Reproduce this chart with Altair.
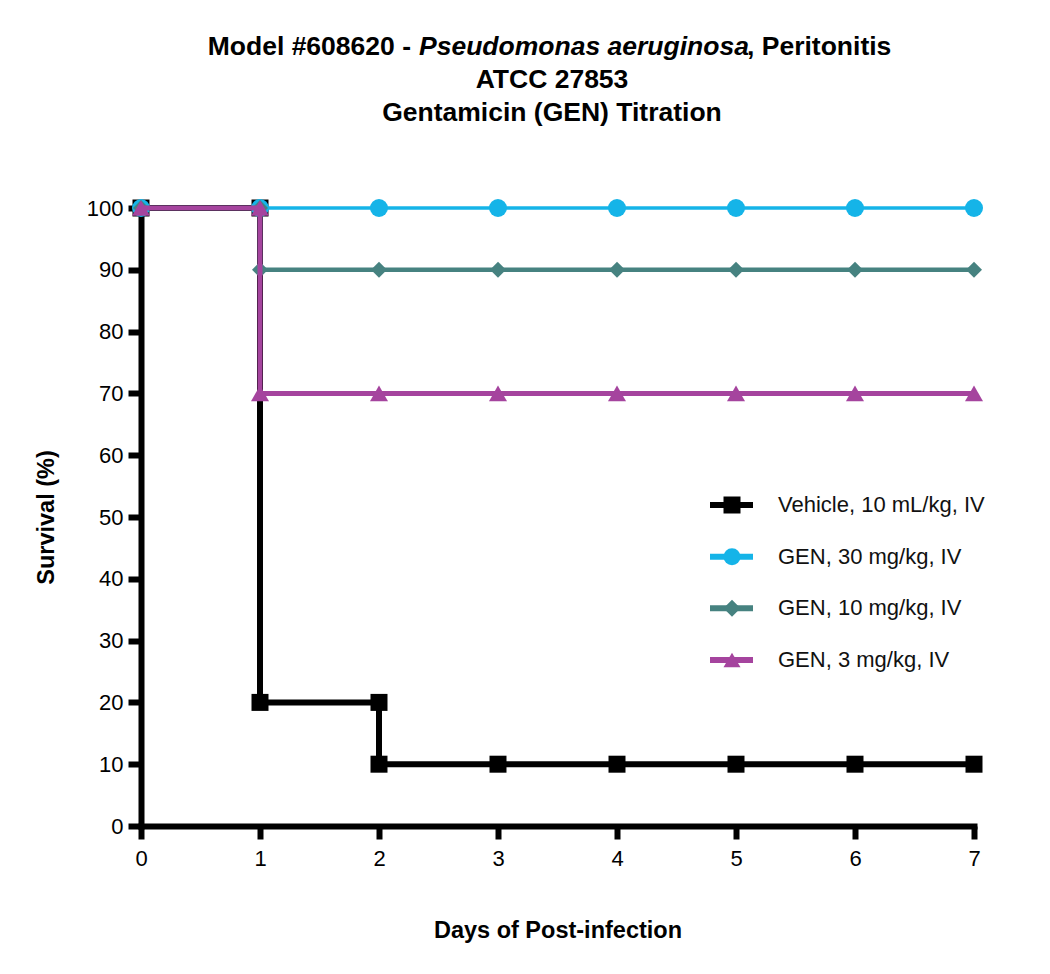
import altair as alt
import pandas as pd

# survival (%) per group, Kaplan-Meier steps (day listed twice where it drops)
series = ["Vehicle, 10 mL/kg, IV", "GEN, 30 mg/kg, IV", "GEN, 10 mg/kg, IV", "GEN, 3 mg/kg, IV"]
vehicle_days = [0, 1, 1, 2, 2, 3, 4, 5, 6, 7]
vehicle_surv = [100, 100, 20, 20, 10, 10, 10, 10, 10, 10]
gen30_days = [0, 1, 2, 3, 4, 5, 6, 7]
gen30_surv = [100, 100, 100, 100, 100, 100, 100, 100]
gen10_days = [0, 1, 1, 2, 3, 4, 5, 6, 7]
gen10_surv = [100, 100, 90, 90, 90, 90, 90, 90, 90]
gen3_days = [0, 1, 1, 2, 3, 4, 5, 6, 7]
gen3_surv = [100, 100, 70, 70, 70, 70, 70, 70, 70]

x_ticks = [0, 1, 2, 3, 4, 5, 6, 7]
y_ticks = [0, 10, 20, 30, 40, 50, 60, 70, 80, 90, 100]

title_a = "Model #608620 -"
title_b = "Pseudomonas aeruginosa"
title_c = ", Peritonitis"
title_2 = "ATCC 27853"
title_3 = "Gentamicin (GEN) Titration"

colors = ["#000000", "#15b4e8", "#468280", "#a5449e"]
shapes = ["square", "circle", "diamond", "triangle-up"]
sizes = [289, 324, 256, 324]
widths = [6, 3.5, 4.5, 5]

FONT = "Liberation Sans"
W, H = 833, 618

rows = []
for name, d, s in [(series[0], vehicle_days, vehicle_surv),
                   (series[1], gen30_days, gen30_surv),
                   (series[2], gen10_days, gen10_surv),
                   (series[3], gen3_days, gen3_surv)]:
    for i, (dd, ss) in enumerate(zip(d, s)):
        rows.append({"series": name, "day": dd, "surv": ss, "i": i})
df = pd.DataFrame(rows)

axis_style = dict(
    grid=False, domainColor="#000000", domainWidth=6, domainCap="square",
    tickColor="#000000", tickWidth=6, tickSize=13,
    labelFont=FONT, labelFontSize=22, labelColor="#000000", labelFlush=False,
    titleFont=FONT, titleFontSize=23.5, titleFontWeight="bold", titleColor="#000000",
)
x_axis = alt.Axis(values=x_ticks, title="Days of Post-infection",
                  titleY=104, titleBaseline="middle", labelPadding=9, **axis_style)
y_axis = alt.Axis(values=y_ticks, title="Survival (%)",
                  titleX=-95, titleY=H / 2, titleBaseline="middle", labelPadding=5, **axis_style)
xs = alt.Scale(domain=[0, 7], nice=False)
ys = alt.Scale(domain=[0, 100], nice=False)

layers = []
for k, name in enumerate(series):
    base = alt.Chart(df).transform_filter(alt.datum.series == name)
    line = base.mark_line(color=colors[k], strokeWidth=widths[k], strokeJoin="miter").encode(
        x=alt.X("day:Q", scale=xs, axis=x_axis),
        y=alt.Y("surv:Q", scale=ys, axis=y_axis),
        order="i:Q",
    )
    pts = base.mark_point(shape=shapes[k], size=sizes[k], filled=True, opacity=1,
                          color=colors[k]).encode(
        x=alt.X("day:Q", scale=xs, axis=x_axis),
        y=alt.Y("surv:Q", scale=ys, axis=y_axis),
    )
    layers += [line, pts]

main = alt.layer(*layers)

# legend drawn by hand: line + marker + label per group
leg = pd.DataFrame({"series": series})
ly = alt.Y("series:N", scale=alt.Scale(type="point", domain=series, range=[297, 452], padding=0), axis=None)
cs = alt.Color("series:N", scale=alt.Scale(domain=series, range=colors), legend=None)
leg_rule = alt.Chart(leg).mark_rule(strokeWidth=6).encode(
    x=alt.value(569), x2=alt.value(612), y=ly, color=cs)
leg_pts = alt.Chart(leg).mark_point(filled=True, opacity=1, size=289).encode(
    x=alt.value(591), y=ly, color=cs,
    shape=alt.Shape("series:N", scale=alt.Scale(domain=series, range=shapes), legend=None))
leg_txt = alt.Chart(leg).mark_text(align="left", baseline="middle", font=FONT, fontSize=22,
                                   color="#111111").encode(
    x=alt.value(637), y=ly, text="series:N")
legend = alt.layer(leg_rule, leg_pts, leg_txt)

# title, with the italic species name
def ttl(txt, x, y, align, style="normal"):
    return alt.Chart(pd.DataFrame({"t": [txt]})).mark_text(
        align=align, baseline="middle", font=FONT, fontSize=26.5, fontWeight="bold",
        fontStyle=style, color="#000000").encode(x=alt.value(x), y=alt.value(y), text="t:N")

titles = alt.layer(
    ttl(title_a, 270, -161, "right"),
    ttl(title_b, 278, -161, "left", "italic"),
    ttl(title_c, 606, -161, "left"),
    ttl(title_2, 411, -128, "center"),
    ttl(title_3, 411, -95, "center"),
)

chart = alt.layer(main, legend, titles).resolve_scale(
    y="independent", color="independent", shape="independent"
).properties(
    width=W, height=H,
    autosize=alt.AutoSizeParams(type="none"),
    padding={"left": 133, "top": 200, "right": 60, "bottom": 130},
).configure_view(stroke=None)

chart.save("out.html", embed_options={"renderer": "svg", "actions": False})
